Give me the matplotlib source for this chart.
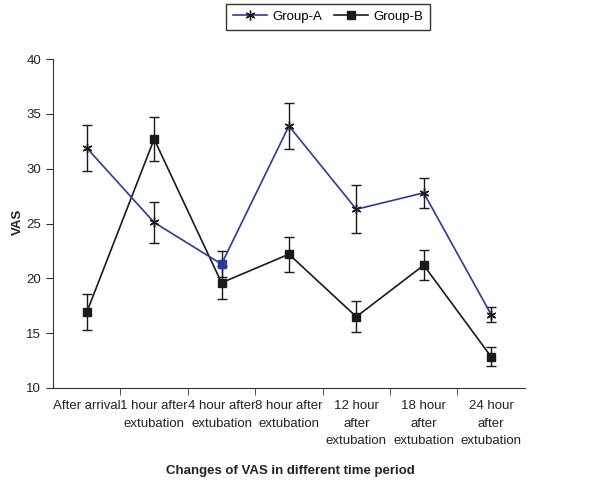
import numpy as np
import matplotlib.pyplot as plt
from matplotlib.lines import Line2D

plt.rcParams['font.family'] = ['Liberation Sans', 'DejaVu Sans']

# Data
periods = ['After arrival', '1 hour after\nextubation', '4 hour after\nextubation',
           '8 hour after\nextubation', '12 hour\nafter\nextubation',
           '18 hour\nafter\nextubation', '24 hour\nafter\nextubation']
group_a = [31.9, 25.1, 21.3, 33.9, 26.3, 27.8, 16.7]
group_a_err = [2.1, 1.9, 1.2, 2.1, 2.2, 1.35, 0.7]
group_b = [16.9, 32.7, 19.6, 22.2, 16.5, 21.2, 12.85]
group_b_err = [1.65, 2.0, 1.5, 1.6, 1.4, 1.35, 0.85]

blue = '#2b3a9e'
dark = '#1a1a1a'
fs = 9.5
x = np.arange(len(periods))

fig = plt.figure(figsize=(6.08, 4.83), dpi=100)
ax = fig.add_axes([0.0872, 0.1967, 0.776, 0.681])

ax.errorbar(x, group_a, yerr=group_a_err, color=blue, lw=1.2,
            ecolor=dark, elinewidth=1.0, capsize=3.5, capthick=1.0,
            marker=(6, 2, 0), ms=7, mec=dark, mew=1.0, zorder=3)
ax.errorbar(x, group_b, yerr=group_b_err, color=dark, lw=1.2,
            ecolor=dark, elinewidth=1.0, capsize=3.5, capthick=1.0,
            marker='s', ms=5.5, mfc=dark, mec=dark, zorder=2)
# Group-A point at 4 hours is drawn as a blue square in the source
ax.plot(x[2], group_a[2], 's', ms=5.5, color=blue, zorder=4)

ax.set_xlim(-0.5, len(periods) - 0.5)
ax.set_ylim(10, 40)
ax.set_yticks(np.arange(10, 41, 5))
ax.set_xticks(x)
ax.set_xticklabels(periods, fontsize=fs, linespacing=1.6, color='#222222')
ax.set_xticks(np.arange(0.5, len(periods) - 0.5, 1), minor=True)
ax.tick_params(axis='x', which='major', length=0, pad=9)
ax.tick_params(axis='x', which='minor', length=5, direction='out', color='#333333')
ax.tick_params(axis='y', length=5, labelsize=fs, color='#333333', labelcolor='#222222')

for side in ['top', 'right']:
    ax.spines[side].set_visible(False)
for side in ['left', 'bottom']:
    ax.spines[side].set_color('#333333')

fig.text(18 / 608, 1 - 222 / 483, 'VAS', rotation=90, ha='center', va='center',
         fontsize=fs, fontweight='bold', color='#222222')
fig.text(290 / 608, 1 - 471 / 483, 'Changes of VAS in different time period',
         ha='center', va='center', fontsize=fs, fontweight='bold', color='#222222')

handles = [Line2D([], [], color=blue, lw=1.2, marker=(6, 2, 0), ms=7, mec=dark, mew=1.0),
           Line2D([], [], color=dark, lw=1.2, marker='s', ms=5.5)]
leg = fig.legend(handles, ['Group-A', 'Group-B'], loc='center',
                 bbox_to_anchor=(328 / 608, 1 - 17 / 483), ncol=2,
                 fontsize=fs, frameon=True, fancybox=False, handlelength=2.6,
                 columnspacing=0.9, handletextpad=0.4, borderpad=0.5)
leg.get_frame().set_edgecolor('black')
leg.get_frame().set_linewidth(1.0)

fig.savefig('out.png', dpi=100)
